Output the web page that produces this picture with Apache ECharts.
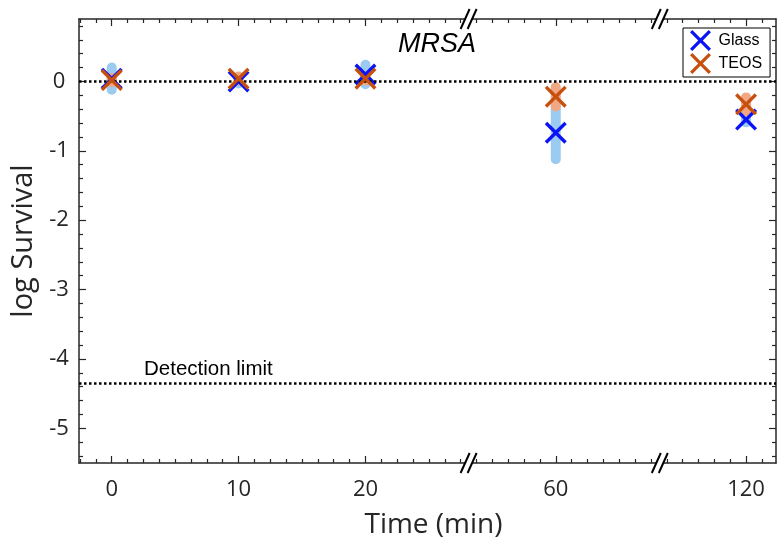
<!DOCTYPE html>
<html><head><meta charset="utf-8">
<script src="https://cdn.jsdelivr.net/npm/echarts@6/dist/echarts.min.js"></script>
<style>html,body{margin:0;padding:0;background:#fff}#c{width:777px;height:546px}</style>
</head><body><div id="c"></div>
<script>
// ---- data ----
const timeLabels = ['0', '10', '20', '60', '120'];          // time (min) tick labels
const xPos = [0, 10, 20, 35, 50];                            // plotted positions on the broken time axis
const glassMean = [0.04, 0.00, 0.10, -0.74, -0.55];
const glassErr  = [0.16, 0.03, 0.14, 0.38, 0.04];
const teosMean  = [0.02, 0.04, 0.04, -0.22, -0.33];
const teosErr   = [0.03, 0.03, 0.03, 0.14, 0.10];
const yTickValues = [-5, -4, -3, -2, -1, 0];
const breakPos = [28.13, 43.2];                              // axis-break marks (axis units)
const detectionLimit = -4.35;

// ---- axis ranges ----
const xMin = -2.58, xMax = 52.36, yMin = -5.5, yMax = 0.9;
const xMinor = [];
for (let k = -2; k <= 41; k++) { const v = k * 1.25; if (v > xMin && v < xMax && xPos.indexOf(v) < 0) xMinor.push(v); }
const yMinor = [];
for (let k = -27; k <= 4; k++) { const v = Math.round(k * 2) / 10; if (v > yMin && v < yMax && yTickValues.indexOf(v) < 0) yMinor.push(v); }

const AX = '#262626';
const FONT = '"Open Sans"';
const XSYM = 'path://M0,2.2L2.2,0L10,7.8L17.8,0L20,2.2L12.2,10L20,17.8L17.8,20L10,12.2L2.2,20L0,17.8L7.8,10Z';

function xAxisDef(position, ticks, len, showLine, showLabel) {
  return {
    type: 'value', position, min: xMin, max: xMax,
    splitLine: { show: false },
    axisLine: { show: showLine, onZero: false, lineStyle: { color: AX, width: 1.5 } },
    axisTick: { show: true, inside: true, length: len, customValues: ticks, lineStyle: { color: AX, width: 1.2 } },
    axisLabel: showLabel ? {
      show: true, customValues: xPos, margin: 16, color: AX, fontSize: 22, fontFamily: FONT,
      formatter: v => { const i = xPos.indexOf(v); return i >= 0 ? timeLabels[i] : ''; }
    } : { show: false }
  };
}
function yAxisDef(position, ticks, len, showLine, showLabel) {
  return {
    type: 'value', position, min: yMin, max: yMax,
    splitLine: { show: false },
    axisLine: { show: showLine, onZero: false, lineStyle: { color: AX, width: 1.5 } },
    axisTick: { show: true, inside: true, length: len, customValues: ticks, lineStyle: { color: AX, width: 1.2 } },
    axisLabel: showLabel ? { show: true, customValues: yTickValues, margin: 20, align: 'center', color: AX, fontSize: 22, fontFamily: FONT } : { show: false }
  };
}

const xAxes = [
  Object.assign(xAxisDef('bottom', xPos, 7, true, true), { name: 'Time (min)', nameLocation: 'middle', nameGap: 48,
    nameTextStyle: { fontSize: 28, fontFamily: FONT, color: AX, padding: [0, 0, 0, 12] } }),
  xAxisDef('bottom', xMinor, 4, false, false),
  xAxisDef('top', xPos, 7, true, false),
  xAxisDef('top', xMinor, 4, false, false)
];
const yAxes = [
  Object.assign(yAxisDef('left', yTickValues, 7, true, true), { name: 'log Survival', nameLocation: 'middle', nameGap: 39,
    nameTextStyle: { fontSize: 29, fontFamily: FONT, color: AX } }),
  yAxisDef('left', yMinor, 4, false, false),
  yAxisDef('right', yTickValues, 7, true, false),
  yAxisDef('right', yMinor, 4, false, false)
];

function errSeries(name, mean, err, color, z) {
  return {
    type: 'custom', name, xAxisIndex: 0, yAxisIndex: 0, silent: true, z,
    data: xPos.map((x, i) => [x, mean[i] - err[i], mean[i] + err[i]]),
    renderItem(params, api) {
      const p1 = api.coord([api.value(0), api.value(1)]);
      const p2 = api.coord([api.value(0), api.value(2)]);
      return { type: 'line', shape: { x1: p1[0], y1: p1[1], x2: p2[0], y2: p2[1] },
        style: { stroke: color, lineWidth: 10, lineCap: 'round' } };
    }
  };
}

const breakData = [];
breakPos.forEach(b => { breakData.push([b, yMin]); breakData.push([b, yMax]); });

const option = {
  animation: false,
  backgroundColor: '#fff',
  grid: { left: 79, right: 1, top: 19, bottom: 83 },
  xAxis: xAxes,
  yAxis: yAxes,
  legend: {
    orient: 'vertical', left: 683, top: 28,
    padding: [2, 8, 3, 7], itemGap: 2, itemWidth: 22, itemHeight: 21,
    backgroundColor: '#fff', borderColor: '#000', borderWidth: 1,
    textStyle: { fontSize: 16, fontFamily: '"Liberation Sans"', color: '#000', padding: [0, 0, 0, 2] },
    data: [{ name: 'Glass', icon: XSYM }, { name: 'TEOS', icon: XSYM }],
    selectedMode: false
  },
  graphic: [{
    type: 'text', x: 437, y: 44, z: 10,
    style: { text: 'MRSA', font: 'italic 27px "Liberation Sans"', fill: '#000', align: 'center', verticalAlign: 'middle' }
  }],
  series: [
    {
      type: 'line', name: 'refs', data: [], z: 1, silent: true,
      markLine: {
        silent: true, symbol: 'none', animation: false,
        lineStyle: { color: '#000', type: [2.5, 2.5], width: 2.5 },
        label: { show: false },
        data: [
          { yAxis: 0 },
          { yAxis: detectionLimit, label: { show: true, position: 'insideStartTop', formatter: 'Detection limit',
              fontSize: 20.5, fontFamily: '"Liberation Sans"', color: '#000', padding: [0, 0, 0, 62], distance: 3 } }
        ]
      }
    },
    errSeries('Glass err', glassMean, glassErr, '#9CCBF2', 2),
    errSeries('TEOS err', teosMean, teosErr, '#F0A784', 3),
    { type: 'scatter', name: 'Glass', z: 4, symbol: XSYM, symbolSize: 22, itemStyle: { color: '#0A14F5', opacity: 1 },
      data: xPos.map((x, i) => [x, glassMean[i]]) },
    { type: 'scatter', name: 'TEOS', z: 5, symbol: XSYM, symbolSize: 22, itemStyle: { color: '#C8500F', opacity: 1 },
      data: xPos.map((x, i) => [x, teosMean[i]]) },
    {
      type: 'custom', name: 'breaks', z: 6, silent: true, clip: false,
      data: breakData,
      renderItem(params, api) {
        const p = api.coord([api.value(0), api.value(1)]);
        const mk = dx => ({ type: 'line', shape: { x1: p[0] + dx - 4.5, y1: p[1] + 10, x2: p[0] + dx + 4.5, y2: p[1] - 10 },
          style: { stroke: '#000', lineWidth: 2 } });
        return { type: 'group', children: [
          { type: 'polygon', shape: { points: [[p[0] - 7, p[1] + 9], [p[0] + 1, p[1] - 9], [p[0] + 7, p[1] - 9], [p[0] - 1, p[1] + 9]] },
            style: { fill: '#fff' } },
          mk(-3.5), mk(3.5)
        ] };
      }
    }
  ]
};
const chart = echarts.init(document.getElementById('c'), null, { renderer: 'canvas' });
chart.setOption(option);
</script></body></html>
